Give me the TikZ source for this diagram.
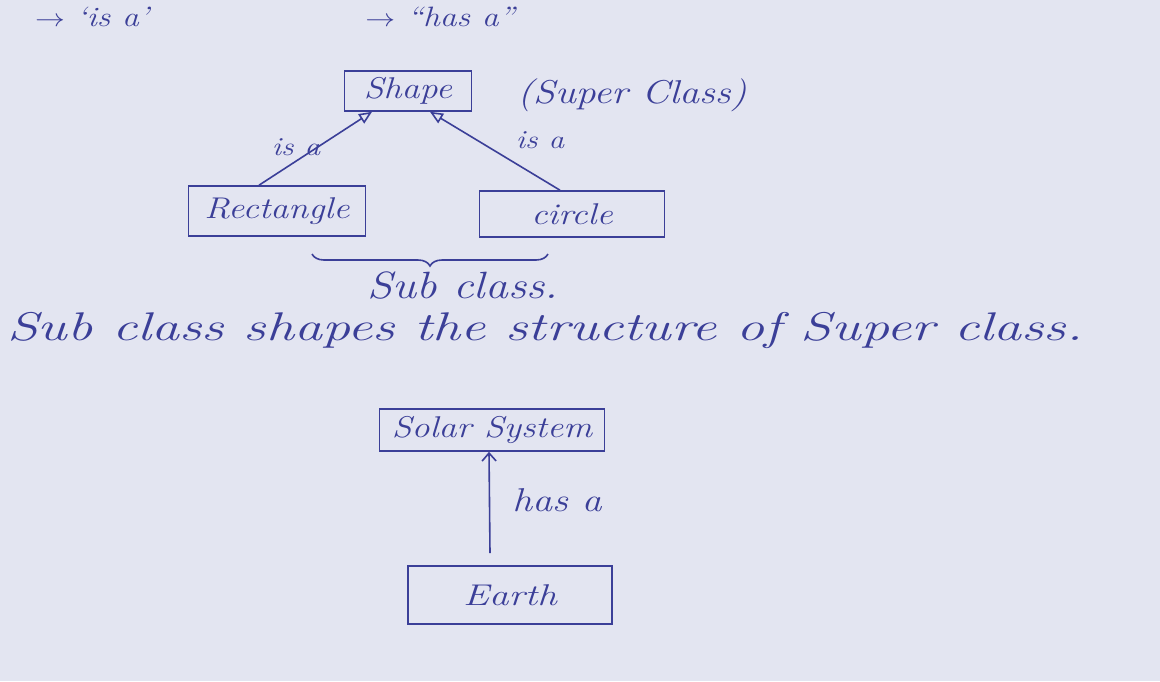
\documentclass[tikz,border=0pt]{standalone}
\usepackage{fontspec}
\usetikzlibrary{arrows.meta,decorations.pathreplacing}
\definecolor{paper}{HTML}{E3E5F1}
\definecolor{ink}{HTML}{3B3F98}
\newcommand\hwtext[2][1.2]{\scalebox{#1}[1]{#2}}
\tikzset{
  hand/.style={text=ink,font=\itshape\fontsize{30}{32}\selectfont,inner sep=0pt},
  cls/.style={draw=ink,line width=1.6pt,text=ink,font=\itshape\fontsize{30}{32}\selectfont,inner sep=0pt},
  isa/.style={draw=ink,line width=1.6pt,-{Triangle[open,length=13pt,width=11pt,line width=1.6pt]}},
  hasa/.style={draw=ink,line width=1.6pt,-{Straight Barb[length=8pt,width=14pt,line width=1.6pt]}},
}
\begin{document}
\begin{tikzpicture}[x=1pt,y=-1pt]
\fill[paper] (0,0) rectangle (1160,681);
\useasboundingbox (0,0) rectangle (1160,681);
% legend
\node[hand,font=\itshape\fontsize{28}{30}\selectfont] (lisa) at (92,17) {\hwtext{$\rightarrow$ `is a'}};
\node[hand,font=\itshape\fontsize{28}{30}\selectfont] (lhasa) at (440,17) {\hwtext{$\rightarrow$ ``has a''}};
% shape hierarchy
\node[cls,minimum width=127pt,minimum height=40pt] (shape) at (408,91) {\hwtext{Shape}};
\node[hand,font=\itshape\fontsize{33}{35}\selectfont] (super) at (632,95) {\hwtext{(Super Class)}};
\node[cls,minimum width=177pt,minimum height=50pt] (rect) at (277,211) {\hwtext{Rectangle}};
\node[cls,minimum width=185pt,minimum height=46pt] (circ) at (572,214) {\hwtext{circle}};
\draw[isa] ([xshift=-18pt]rect.north) -- ([xshift=-36pt]shape.south);
\draw[isa] ([xshift=-12pt]circ.north) -- ([xshift=22pt]shape.south);
\node[hand,font=\itshape\fontsize{26}{28}\selectfont] (isa1) at (296,147) {\hwtext{is a}};
\node[hand,font=\itshape\fontsize{26}{28}\selectfont] (isa2) at (540,140) {\hwtext{is a}};
\coordinate (bl) at (312,254);
\coordinate (br) at (548,254);
\draw[ink,line width=1.6pt,decorate,decoration={brace,mirror,amplitude=12pt}] (bl) -- (br);
\node[hand,font=\itshape\fontsize{38}{40}\selectfont] (sub) at (463,286) {\hwtext{Sub class.}};
\node[hand,font=\itshape\fontsize{40}{42}\selectfont] (sent) at (545,330) {\hwtext[1.4]{Sub class shapes the structure of Super class.}};
% has-a
\node[cls,minimum width=225pt,minimum height=42pt] (solar) at (492,430) {\hwtext{Solar System}};
\node[cls,minimum width=204pt,minimum height=58pt] (earth) at (510,595) {\hwtext[1.3]{Earth}};
\draw[hasa] ([xshift=-20pt,yshift=12pt]earth.north) -- ([xshift=-3pt]solar.south);
\node[hand,font=\itshape\fontsize{33}{35}\selectfont] (has) at (557,500) {\hwtext{has a}};
\end{tikzpicture}
\end{document}
